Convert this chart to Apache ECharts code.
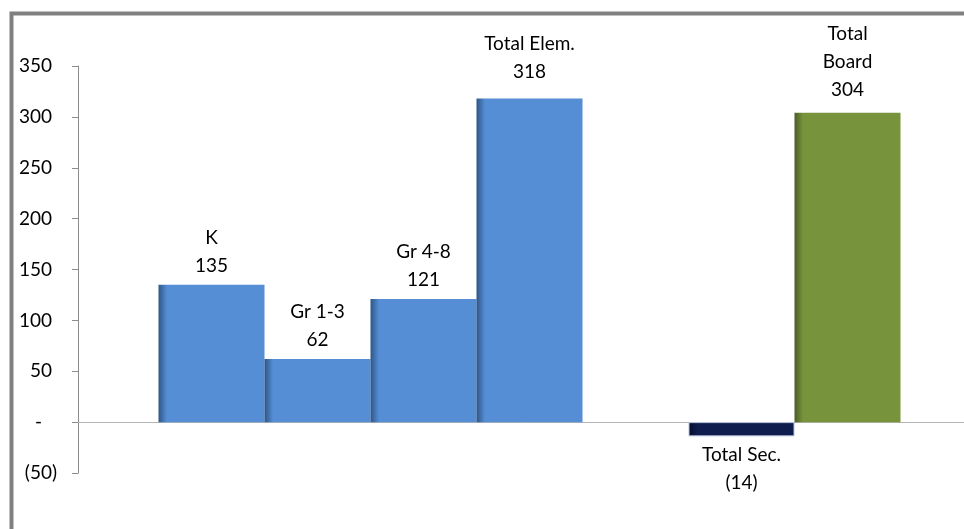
<!DOCTYPE html>
<html>
<head>
<meta charset="utf-8">
<script src="https://cdn.jsdelivr.net/npm/echarts@6/dist/echarts.min.js"></script>
<style>
  html, body { margin: 0; padding: 0; background: #fff; }
  #chart { width: 964px; height: 529px; }
</style>
</head>
<body>
<div id="chart"></div>
<script>
// ---- data ----
const seriesNames = ['K', 'Gr 1-3', 'Gr 4-8', 'Total Elem.', '', 'Total Sec.', 'Total Board'];
const labelNames  = ['K', 'Gr 1-3', 'Gr 4-8', 'Total Elem.', '', 'Total Sec.', 'Total\nBoard'];
const values      = [135, 62, 121, 318, null, -14, 304];
const barColors   = ['#558ED5', '#558ED5', '#558ED5', '#558ED5', '#558ED5', '#0E1C4E', '#77933C'];
const barEdge     = ['#2E5687', '#2E5687', '#2E5687', '#2E5687', '#2E5687', '#050C26', '#4B5E25'];
const labelOffsets = [[0, 0], [0, 0], [0, 0], [0, -8], [0, 0], [0, 0], [0, -4]];
const yMin = -50, yMax = 350, yStep = 50;

const FONT = 'Lato';

function acct(v) {
  if (v === 0) return '-';
  if (v < 0) return '(' + (-v) + ')';
  return String(v);
}

const chart = echarts.init(document.getElementById('chart'));

const series = seriesNames.map((name, i) => ({
  type: 'bar',
  name: name,
  barWidth: 106,
  barGap: '0%',
  data: [values[i]],
  itemStyle: {
    color: new echarts.graphic.LinearGradient(0, 0, 1, 0, [
      { offset: 0, color: barEdge[i] },
      { offset: 0.08, color: barColors[i] },
      { offset: 1, color: barColors[i] }
    ]),
    borderColor: i === 5 ? '#B7C2DA' : 'rgba(0,0,0,0)',
    borderWidth: i === 5 ? 1 : 0
  },
  label: {
    show: values[i] !== null,
    position: values[i] < 0 ? 'bottom' : 'top',
    distance: 5,
    offset: labelOffsets[i],
    fontFamily: FONT,
    fontSize: 19,
    lineHeight: 28,
    color: '#000',
    align: 'center',
    formatter: () => labelNames[i] + '\n' + acct(values[i])
  }
}));

chart.setOption({
  animation: false,
  backgroundColor: '#fff',
  graphic: [{
    type: 'rect',
    shape: { x: 11.5, y: 13.5, width: 2000, height: 2000 },
    style: { fill: 'none', stroke: '#808080', lineWidth: 4 },
    silent: true
  }],
  grid: { left: 78, top: 66, bottom: 56, width: 903, outerBoundsMode: 'none', containLabel: false },
  xAxis: {
    type: 'category',
    data: [''],
    axisLine: { onZero: true, lineStyle: { color: '#B5B5B5', width: 1 } },
    axisTick: { show: false },
    axisLabel: { show: false },
    splitLine: { show: false }
  },
  yAxis: {
    type: 'value',
    min: yMin,
    max: yMax,
    interval: yStep,
    axisLine: { show: true, lineStyle: { color: '#8C8C8C', width: 1 } },
    axisTick: { show: true, length: 6, lineStyle: { color: '#8C8C8C' } },
    splitLine: { show: false },
    axisLabel: {
      margin: 21,
      fontFamily: FONT,
      fontSize: 19,
      color: '#000',
      align: 'right',
      formatter: v => {
        if (v === 0) return '{z|-}';
        if (v < 0) return '{g|' + acct(v) + '}';
        return '{p|' + v + '}';
      },
      rich: {
        p: { fontFamily: FONT, fontSize: 19, color: '#000', padding: [0, 5, 0, 0] },
        z: { fontFamily: FONT, fontSize: 19, color: '#000', padding: [0, 15, 0, 0] },
        g: { fontFamily: FONT, fontSize: 19, color: '#000' }
      }
    }
  },
  series: series
});
</script>
</body>
</html>
